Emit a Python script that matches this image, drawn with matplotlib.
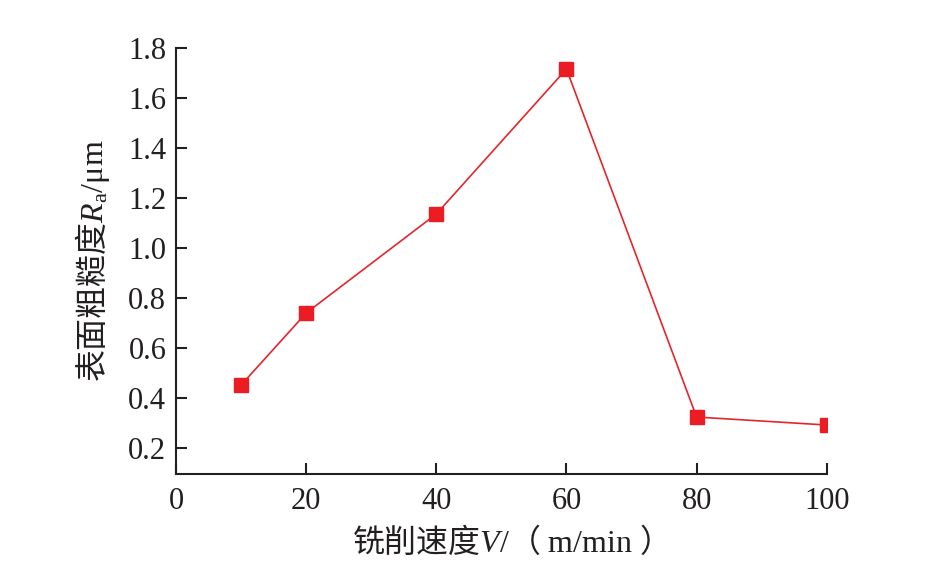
import matplotlib
matplotlib.use("Agg")
import matplotlib.pyplot as plt

speed = [10, 20, 40, 60, 80, 100]
roughness = [0.452, 0.74, 1.136, 1.716, 0.324, 0.292]
xticks = [0, 20, 40, 60, 80, 100]
yticks = [0.2, 0.4, 0.6, 0.8, 1.0, 1.2, 1.4, 1.6, 1.8]

plt.rcParams['font.family'] = ['Liberation Serif', 'Noto Sans CJK SC', 'DejaVu Sans']
plt.rcParams['mathtext.fontset'] = 'custom'
plt.rcParams['mathtext.rm'] = 'Liberation Serif'
plt.rcParams['mathtext.it'] = 'Liberation Serif:italic'

ink = '#231f20'
fig = plt.figure(figsize=(9.47, 5.66), dpi=100)
ax = fig.add_axes([0.1859, 0.1625, 0.873 - 0.1859, 0.9152 - 0.1625])
ax.plot(speed, roughness, color='#e3262b', lw=1.2, marker='s', ms=9.5,
        markerfacecolor='#ec1c24', markeredgecolor='#ec1c24')
ax.set_xlim(0, 100)
ax.set_ylim(0.096, 1.8)
ax.set_xticks(xticks)
ax.set_yticks(yticks)
ax.set_xticklabels([str(v) for v in xticks])
ax.set_yticklabels([f"{v:.1f}" for v in yticks])
for s in ['top', 'right']:
    ax.spines[s].set_visible(False)
for s in ['left', 'bottom']:
    ax.spines[s].set_linewidth(1.5)
    ax.spines[s].set_color(ink)
ax.tick_params(direction='in', length=8, width=1.5, colors=ink, labelsize=22)
ax.tick_params(axis='x', pad=9)
ax.tick_params(axis='y', pad=7)
ax.set_xlabel('铣削速度$V\\mathrm{/}$（$\\mathrm{\\ m/min\\ }$）', fontsize=23, color=ink,
              labelpad=7, family='Noto Sans CJK SC')
ax.set_ylabel('表面粗糙度$R_{\\mathrm{a}}\\mathrm{/μm}$', fontsize=23, color=ink,
              labelpad=12, family='Noto Sans CJK SC')
fig.savefig('out.png', dpi=100)
